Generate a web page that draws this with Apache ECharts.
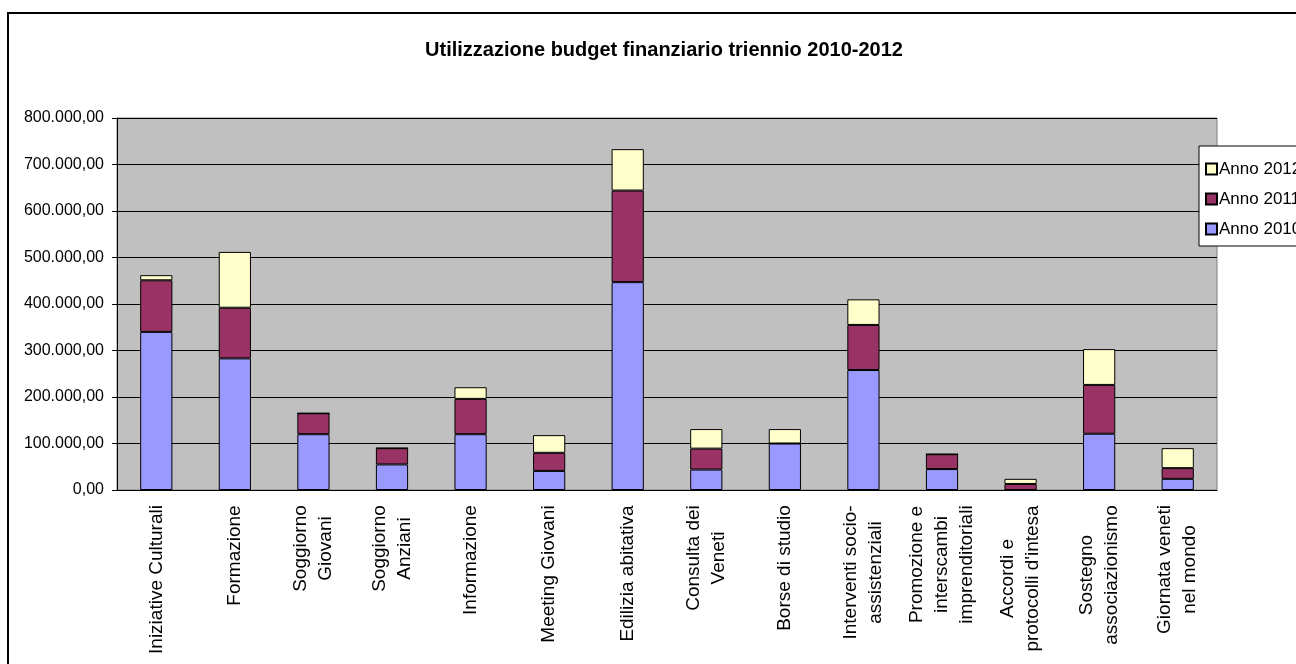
<!DOCTYPE html>
<html lang="it">
<head>
<meta charset="UTF-8">
<title>Utilizzazione budget finanziario triennio 2010-2012</title>
<script src="https://cdn.jsdelivr.net/npm/echarts@6/dist/echarts.min.js"></script>
<style>
  html, body { margin: 0; padding: 0; background: #fff; overflow: hidden; }
  #chart { width: 1296px; height: 664px; }
</style>
</head>
<body>
<div id="chart"></div>
<script>
var categories = [
    'Iniziative Culturali',
    'Formazione',
    'Soggiorno\nGiovani',
    'Soggiorno\nAnziani',
    'Informazione',
    'Meeting Giovani',
    'Edilizia abitativa',
    'Consulta dei\nVeneti',
    'Borse di studio',
    'Interventi socio-\nassistenziali',
    'Promozione e\ninterscambi\nimprenditoriali',
    'Accordi e\nprotocolli d\'intesa',
    'Sostegno\nassociazionismo',
    'Giornata veneti\nnel mondo'
];
var anno2010 = [340000, 283000, 120000, 55000, 120000, 41000, 447000, 44000, 100000, 258000, 45000, 0, 121000, 24000];
var anno2011 = [111000, 109000, 45000, 35000, 76000, 39000, 197000, 45000, 0, 97000, 32000, 13000, 105000, 23000];
var anno2012 = [11000, 120000, 0, 0, 25000, 38000, 89000, 42000, 31000, 55000, 0, 11000, 77000, 43000];

var sans = "'Liberation Sans', Arial, sans-serif";

// 800000 -> "800.000,00"
function itFormat(v) {
    var s = String(Math.round(v));
    s = s.replace(/\B(?=(\d{3})+(?!\d))/g, '.');
    return s + ',00';
}

// righe delle etichette centrate tra loro (come in Excel)
var ctx = document.createElement('canvas').getContext('2d');
ctx.font = '19px ' + sans;
var rich = {};
categories.forEach(function (c, i) {
    var w = 0;
    c.split('\n').forEach(function (l) { w = Math.max(w, ctx.measureText(l).width); });
    rich['l' + i] = { width: Math.ceil(w), align: 'center', fontFamily: sans, fontSize: 19, lineHeight: 25, color: '#000' };
});

var chart = echarts.init(document.getElementById('chart'));

function serie(name, data, color) {
    return {
        name: name,
        type: 'bar',
        stack: 'tot',
        data: data,
        barWidth: '41%',
        itemStyle: { color: color, borderColor: '#000', borderWidth: 1 },
        emphasis: { disabled: true }
    };
}

var option = {
    animation: false,
    graphic: [{
        type: 'rect',
        shape: { x: 8, y: 13, width: 1400, height: 800 },
        style: { fill: 'none', stroke: '#000', lineWidth: 2 },
        z: -1
    }],
    title: {
        text: 'Utilizzazione budget finanziario triennio 2010-2012',
        left: 659,
        textAlign: 'center',
        top: 35,
        textStyle: { fontFamily: sans, fontWeight: 'bold', fontSize: 20, color: '#000' }
    },
    legend: {
        orient: 'vertical',
        left: 1199,
        top: 146,
        data: ['Anno 2012', 'Anno 2011', 'Anno 2010'],
        icon: 'rect',
        itemWidth: 11,
        itemHeight: 11,
        itemGap: 10,
        padding: [13, 10, 7, 6],
        backgroundColor: '#fff',
        borderColor: '#000',
        borderWidth: 1,
        borderRadius: 0,
        textStyle: { fontFamily: sans, fontSize: 17, color: '#000', lineHeight: 20, padding: [0, 0, 0, -3] }
    },
    grid: {
        left: 117,
        top: 118,
        right: 79,
        bottom: 174,
        show: true,
        backgroundColor: '#c0c0c0',
        borderColor: '#808080',
        borderWidth: 1
    },
    xAxis: {
        type: 'category',
        data: categories,
        axisLine: { lineStyle: { color: '#000', width: 1 } },
        axisTick: { length: 6, lineStyle: { color: '#000' } },
        axisLabel: {
            interval: 0,
            rotate: 90,
            margin: 15,
            color: '#000',
            fontFamily: sans,
            fontSize: 19,
            lineHeight: 25,
            formatter: function (v, idx) {
                return v.split('\n').map(function (l) { return '{l' + idx + '|' + l + '}'; }).join('\n');
            },
            rich: rich
        }
    },
    yAxis: {
        type: 'value',
        min: 0,
        max: 800000,
        interval: 100000,
        axisLine: { show: true, lineStyle: { color: '#000', width: 1 } },
        axisTick: { show: true, length: 5, lineStyle: { color: '#000' } },
        splitLine: { lineStyle: { color: '#000', width: 1 } },
        axisLabel: {
            margin: 13,
            color: '#000',
            fontFamily: sans,
            fontSize: 16,
            formatter: itFormat
        }
    },
    series: [
        serie('Anno 2010', anno2010, '#9999ff'),
        serie('Anno 2011', anno2011, '#993366'),
        serie('Anno 2012', anno2012, '#ffffcc')
    ]
};

chart.setOption(option);
</script>
</body>
</html>
